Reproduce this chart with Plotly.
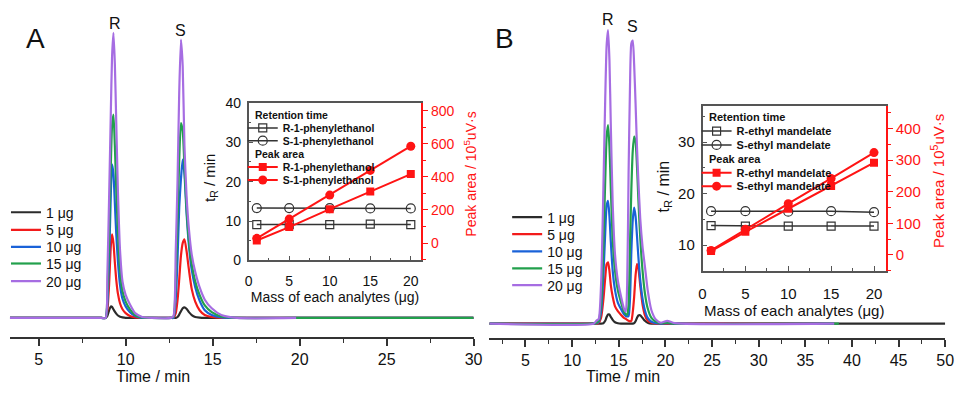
import plotly.graph_objects as go

FONT = "Arial, Liberation Sans, sans-serif"

# ---------------- panel A : chromatograms of 1-phenylethanol ----------------
# time in min, detector signal in arbitrary units (baseline = 0)
time_a = [3.35, 8.6, 8.85, 8.95, 9.05, 9.15, 9.22, 9.3, 9.38, 9.46, 9.56, 9.68, 9.82,
          10.0, 10.25, 10.55, 10.95, 11.5, 12.6, 12.75, 12.88, 12.98, 13.08, 13.18,
          13.28, 13.38, 13.5, 13.64, 13.8, 14.0, 14.25, 14.55, 14.95, 15.5, 16.4, 19.8, 30]
sig_a_1 = [0, 0, 0, 2, 8, 12, 11.5, 9, 6.5, 4.5, 2.5, 1.2, 0.5,
           0, 0, 0, 0, 0, 0, 0, 0, 1, 3.5, 7,
           10, 11, 9.5, 6, 3, 1, 0.3, 0, 0, 0, 0, 0, 0]
sig_a_5 = [0, 0, 0, 8, 35, 75, 87, 78, 58, 40, 25, 15, 9,
           5, 2, 0.5, 0, 0, 0, 0, 5, 18, 40, 65,
           78, 82, 70, 50, 30, 17, 8, 3, 1, 0, 0, 0, 0]
sig_a_10 = [0, 0, 0, 15, 60, 130, 160, 150, 120, 88, 58, 34, 20,
            12, 6, 2, 0, 0, 0, 0, 20, 60, 115, 145,
            165, 150, 110, 75, 50, 32, 18, 8, 3, 0.5, 0, 0, 0]
sig_a_15 = [0, 0, 0, 25, 85, 160, 200, 212, 180, 135, 88, 50, 28,
            17, 9, 3, 0.5, 0, 0, 1, 40, 100, 165, 203,
            195, 158, 115, 80, 56, 38, 24, 13, 6, 1.5, 0, 0, 0]
sig_a_20 = [0, 0, 0, 45, 125, 215, 272, 297, 265, 205, 130, 70, 38,
            24, 14, 5, 1, 0, 0, 2, 70, 140, 235, 290,
            262, 180, 128, 92, 66, 48, 32, 19, 10, 3, 0, 0, None]

# ---------------- panel B : chromatograms of ethyl mandelate ----------------
time_b = [1.13, 12.3, 12.6, 12.85, 13.1, 13.35, 13.55, 13.7, 13.85, 14.0, 14.15, 14.35,
          14.6, 14.9, 15.25, 15.55, 15.75, 15.9, 16.05, 16.2, 16.35, 16.5, 16.65, 16.8,
          16.95, 17.1, 17.3, 17.55, 17.8, 18.1, 18.5, 19.0, 19.5, 20.2, 21.0, 38.1, 38.6, 50]
sig_b_1 = [0, 0, 0, 0, 0, 0.5, 3, 7, 9.5, 9.5, 7, 4,
           1.5, 0.5, 0, 0, 0, 0, 0, 0, 0, 0, 0.5, 2.5,
           6, 8.5, 8.8, 6, 3, 1, 0, 0, 0, 0, 0, 0, 0, 0]
sig_b_5 = [0, 0, 0, 1, 6, 25, 48, 62, 64, 55, 40, 28,
           18, 13, 9, 6, 5, 4, 3, 2.5, 3, 12, 28, 50,
           62, 58, 40, 20, 9, 3, 1, 0, 0, 0, 0, 0, None, None]
sig_b_10 = [0, 0, 0.5, 2, 12, 50, 95, 123, 128, 112, 85, 55,
            35, 22, 15, 10, 8, 7.5, 8, 25, 75, 108, 121, 112,
            92, 70, 46, 26, 14, 6, 2, 0.5, 0, 0.5, 0, 0, None, None]
sig_b_15 = [0, 0, 1, 3, 20, 80, 150, 195, 207, 185, 140, 88,
            55, 35, 22, 13, 10, 9, 20, 80, 140, 180, 195, 190,
            165, 130, 90, 55, 32, 16, 6, 2, 0.5, 1, 0, 0, 0, None]
sig_b_20 = [0, 0, 3, 5, 40, 140, 235, 290, 306, 275, 205, 125,
            72, 45, 28, 16, 12.5, 40, 155, 245, 292, 295, 270, 230,
            185, 150, 110, 80, 60, 35, 14, 4, 1, 3, 0.5, 0, None, None]

amount_labels = ["1 μg", "5 μg", "10 μg", "15 μg", "20 μg"]
amount_colors = ["#2b2b2b", "#f21b1b", "#1a62d8", "#22a04c", "#a66de2"]

# ---------------- insets : retention time and peak area vs mass ----------------
mass = [1, 5, 10, 15, 20]
tr_a_r = [9.1, 9.1, 9.1, 9.2, 9.1]
tr_a_s = [13.3, 13.3, 13.3, 13.2, 13.2]
area_a_r = [16, 97, 205, 311, 417]
area_a_s = [29, 145, 290, 439, 585]
names_a = ["R-1-phenylethanol", "S-1-phenylethanol"]

tr_b_r = [13.8, 13.7, 13.7, 13.7, 13.7]
tr_b_s = [16.6, 16.6, 16.5, 16.6, 16.4]
area_b_r = [12, 73, 146, 218, 292]
area_b_s = [14, 81, 162, 242, 324]
names_b = ["R-ethyl mandelate", "S-ethyl mandelate"]

GREY = "#333333"
RED = "#ff1414"


def px_x(v):
    return v / 969


def px_y(v):
    return 1 - v / 395


fig = go.Figure()
legends = {}
leg_count = [0]


def new_legend(x_px, y_px, size, bold=False):
    # one legend per entry so the row spacing can follow the original
    leg_count[0] += 1
    key = "legend" if leg_count[0] == 1 else f"legend{leg_count[0]}"
    f = dict(family=FONT, size=size, color="#111")
    if bold:
        f["weight"] = "bold"
    legends[key] = dict(x=px_x(x_px), y=px_y(y_px), xanchor="left", yanchor="middle",
                        bgcolor="rgba(0,0,0,0)", font=f, itemwidth=30)
    return key


rows_a = [213.3, 231.7, 249.3, 266.7, 285]
for sig, lab, col, yr in zip([sig_a_1, sig_a_5, sig_a_10, sig_a_15, sig_a_20], amount_labels,
                             amount_colors, rows_a):
    fig.add_trace(go.Scatter(x=time_a, y=sig, mode="lines", name=lab, legend=new_legend(2, yr, 14),
                             line=dict(color=col, width=2.2, shape="spline", smoothing=0.6),
                             xaxis="x", yaxis="y", hoverinfo="skip"))

rows_b = [218.3, 236, 254, 271.7, 289.3]
for sig, lab, col, yr in zip([sig_b_1, sig_b_5, sig_b_10, sig_b_15, sig_b_20], amount_labels,
                             amount_colors, rows_b):
    fig.add_trace(go.Scatter(x=time_b, y=sig, mode="lines", name=lab, legend=new_legend(510, yr, 14),
                             line=dict(color=col, width=2.2, shape="spline", smoothing=0.6),
                             xaxis="x2", yaxis="y2", hoverinfo="skip"))


def add_inset(xa, ya_t, ya_a, names, tr_r, tr_s, ar_r, ar_s, leg_x, leg_rows, size):
    specs = [
        (tr_r, names[0], ya_t, GREY, 1.5, dict(symbol="square-open", size=8, color=GREY, line=dict(width=1.2))),
        (tr_s, names[1], ya_t, GREY, 1.5, dict(symbol="circle-open", size=9, color=GREY, line=dict(width=1.2))),
        (ar_r, names[0], ya_a, RED, 2, dict(symbol="square", size=8, color=RED)),
        (ar_s, names[1], ya_a, RED, 2, dict(symbol="circle", size=9, color=RED)),
    ]
    for (yv, nm, ya, col, lw, mk), yr in zip(specs, leg_rows):
        fig.add_trace(go.Scatter(x=mass, y=yv, name=nm, mode="lines+markers",
                                 legend=new_legend(leg_x, yr, size, bold=True),
                                 line=dict(color=col, width=lw), marker=mk,
                                 xaxis=xa, yaxis=ya, hoverinfo="skip"))


add_inset("x3", "y3", "y4", names_a, tr_a_r, tr_a_s, area_a_r, area_a_s,
          242, [125, 138.3, 165.7, 179.3], 10.5)
add_inset("x4", "y5", "y6", names_b, tr_b_r, tr_b_s, area_b_r, area_b_s,
          702, [128.3, 142.7, 171.7, 185.7], 11)


main_x = dict(showline=True, linecolor=GREY, linewidth=1.5, ticks="outside", ticklen=7,
              tickwidth=1.5, tickcolor=GREY, dtick=5, showgrid=False, zeroline=False,
              tickfont=dict(family=FONT, size=16, color="#111"),
              minor=dict(ticks="outside", ticklen=4, tickwidth=1.2, tickcolor=GREY, dtick=2.5))
hidden_y = dict(visible=False, showgrid=False, zeroline=False)


def inset_x(size, standoff):
    return dict(showline=True, linecolor="#555", linewidth=1.5, mirror=True, ticks="inside",
                ticklen=5, tickwidth=1.2, tickcolor="#555", dtick=5, showgrid=False, zeroline=False,
                ticklabelstandoff=standoff, tickfont=dict(family=FONT, size=size, color="#111"),
                title=dict(text="Mass of each analytes (μg)", font=dict(family=FONT, size=size, color="#111"),
                           standoff=3),
                minor=dict(ticks="inside", ticklen=3, tickwidth=1.2, tickcolor="#555", dtick=2.5))


def inset_left(size):
    return dict(showline=True, linecolor="#555", linewidth=1.5, ticks="inside", ticklen=5,
                tickwidth=1.2, tickcolor="#555", dtick=10, tick0=0, showgrid=False, zeroline=False,
                ticklabelstandoff=3, tickfont=dict(family=FONT, size=size, color="#111"),
                minor=dict(ticks="inside", ticklen=3, tickwidth=1.2, tickcolor="#555", dtick=5))


def inset_right(size, dt):
    return dict(showline=True, linecolor=RED, linewidth=1.5, ticks="outside", ticklen=5,
                tickwidth=1.2, tickcolor=RED, dtick=dt, tick0=0, showgrid=False, zeroline=False,
                side="right", tickfont=dict(family=FONT, size=size, color=RED),
                minor=dict(ticks="outside", ticklen=3, tickwidth=1.2, tickcolor=RED, dtick=dt / 2))


fig.update_layout(
    width=969, height=395, margin=dict(l=0, r=0, t=0, b=0),
    paper_bgcolor="white", plot_bgcolor="rgba(0,0,0,0)",
    font=dict(family=FONT, color="#111"), showlegend=True,
    xaxis=dict(main_x, domain=[px_x(6), px_x(476)], range=[3.35, 30], anchor="y"),
    yaxis=dict(hidden_y, domain=[px_y(343), px_y(5)], range=[-20, 318], anchor="x"),
    xaxis2=dict(main_x, domain=[px_x(492), px_x(954)], range=[1.13, 50], anchor="y2"),
    yaxis2=dict(hidden_y, domain=[px_y(344), px_y(5)], range=[-15, 324], anchor="x2"),
    xaxis3=dict(inset_x(14, 7), domain=[px_x(248), px_x(423)], range=[0, 21.3], anchor="y3"),
    yaxis3=dict(inset_left(14), domain=[px_y(263), px_y(99)], range=[0, 40], anchor="x3"),
    yaxis4=dict(inset_right(14, 200), overlaying="y3", anchor="x3", range=[-104, 846]),
    xaxis4=dict(inset_x(15, 8), domain=[px_x(708), px_x(894)], range=[0, 21.4], anchor="y5"),
    yaxis5=dict(inset_left(15), domain=[px_y(274), px_y(101.7)], range=[5, 37.1], anchor="x4"),
    yaxis6=dict(inset_right(15, 100), overlaying="y5", anchor="x4", range=[-51, 473]),
    **legends,
)

ann = []
# panel letters
for txt, xc in [("A", 32), ("B", 507)]:
    ann.append(dict(text=txt, x=px_x(xc), y=px_y(32), xref="paper", yref="paper", showarrow=False,
                    xanchor="center", yanchor="middle", font=dict(family=FONT, size=28, color="#111")))
# enantiomer labels above the peaks
for txt, xv, yv, xr, yr in [("R", 9.39, 307, "x", "y"), ("S", 13.14, 300, "x", "y"),
                            ("R", 13.82, 317, "x2", "y2"), ("S", 16.44, 310, "x2", "y2")]:
    ann.append(dict(text=txt, x=xv, y=yv, xref=xr, yref=yr, showarrow=False,
                    xanchor="center", yanchor="middle", font=dict(family=FONT, size=16, color="#111")))
# main x titles
for xc in [151, 627]:
    ann.append(dict(text="Time / min", x=px_x(xc), y=px_y(384.5), xref="paper", yref="paper",
                    xanchor="center", yanchor="middle", showarrow=False, borderpad=0,
                    font=dict(family=FONT, size=16, color="#111")))
# inset legend group titles
for txt, xl, yc, sz in [("Retention time", 252, 111, 10.5), ("Peak area", 252, 152.3, 10.5),
                        ("Retention time", 712.5, 114, 11), ("Peak area", 712.5, 157, 11)]:
    ann.append(dict(text=f"<b>{txt}</b>", x=px_x(xl), y=px_y(yc), xref="paper", yref="paper",
                    xanchor="left", yanchor="middle", showarrow=False,
                    font=dict(family=FONT, size=sz, color="#111")))
# inset y titles
for txt, xc, yc, sz, col in [("t<sub>R</sub> / min", 210, 177, 15, "#111"),
                             ("Peak area / 10<sup>5</sup>uV·s", 472, 173, 14, RED),
                             ("t<sub>R</sub> / min", 669, 186, 16, "#111"),
                             ("Peak area / 10<sup>5</sup>uV·s", 946, 180, 15, RED)]:
    ann.append(dict(text=txt, x=px_x(xc), y=px_y(yc), xref="paper", yref="paper",
                    xanchor="center", yanchor="middle", textangle=-90, showarrow=False,
                    font=dict(family=FONT, size=sz, color=col)))
fig.update_layout(annotations=ann)

# the page's default body margin would shift the figure by 8 px
fig.write_html("out.html", config={"displayModeBar": False},
               post_script="document.body.style.margin='0';")
